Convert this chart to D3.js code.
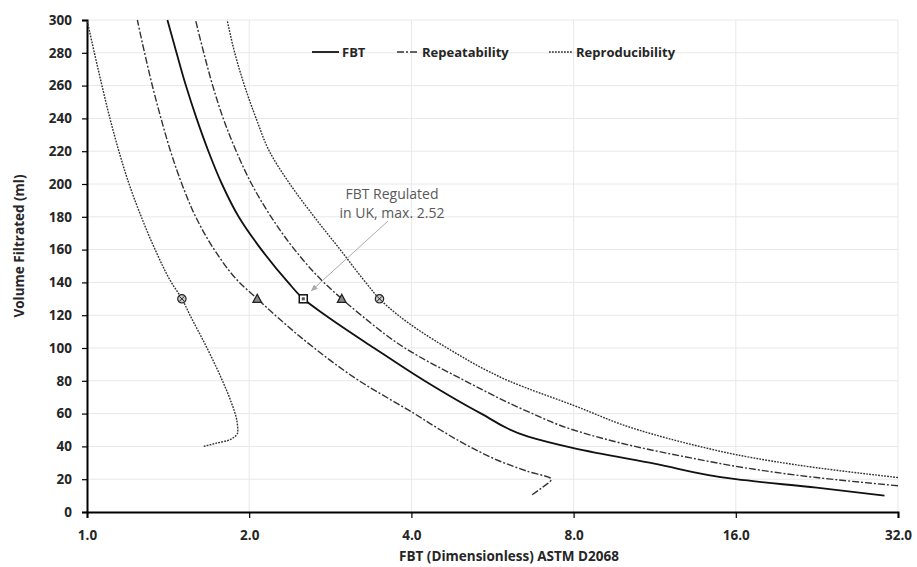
<!DOCTYPE html>
<html>
<head>
<meta charset="utf-8">
<script src="https://cdn.jsdelivr.net/npm/d3@7"></script>
<style>
  body { margin: 0; background: #fff; }
  text { font-family: "Open Sans", Lato, sans-serif; }
  .tick-label { font-size: 13.5px; font-weight: bold; fill: #262626; }
  .title { font-size: 13.5px; font-weight: bold; fill: #262626; }
  .legend { font-size: 13px; font-weight: bold; fill: #262626; }
  .note { font-size: 14px; fill: #595959; }
</style>
</head>
<body>
<div id="chart"></div>
<script>
// FBT vs volume filtrated, [FBT, ml]
const fbt = [[1.41,300],[1.466,280],[1.526,260],[1.597,240],[1.68,220],[1.78,200],[1.912,180],[2.107,160],[2.362,140],[2.52,130],[2.77,120],[3.41,100],[4.23,80],[5.39,60],[6.59,46],[8.0,39],[11.3,29.5],[16,20],[22.6,14.8],[30.2,10]];

const repeatLow = [[1.24,300],[1.279,280],[1.322,260],[1.372,240],[1.429,220],[1.5,200],[1.591,180],[1.723,160],[1.918,140],[2.07,130],[2.235,120],[2.64,100],[3.2,80],[4.05,60],[4.53,50],[5.12,40],[5.94,30],[6.54,25],[7.27,20],[7.0,15],[6.7,10.5]];
const repeatHigh = [[1.59,300],[1.647,280],[1.711,260],[1.79,240],[1.892,220],[2.021,200],[2.196,180],[2.428,160],[2.751,140],[2.97,130],[3.227,120],[3.89,100],[5.03,80],[6.5,62],[8.0,50],[10.4,40],[13.2,33],[16.6,27],[22.6,21],[32,16]];

const reproLow = [[1.0,300],[1.032,280],[1.066,260],[1.103,240],[1.146,220],[1.197,200],[1.261,180],[1.338,160],[1.434,140],[1.5,130],[1.553,120],[1.67,100],[1.784,80],[1.847,68],[1.899,55],[1.905,49],[1.84,44],[1.74,42],[1.647,40]];
const reproHigh = [[1.82,300],[1.88,280],[1.96,260],[2.06,240],[2.18,220],[2.38,200],[2.64,180],[2.95,160],[3.29,140],[3.49,130],[3.78,120],[4.66,100],[6.06,80],[8.0,65],[10.56,50],[13.7,40],[16,35],[22.6,27],[32,21]];

const markerVolume = 130;
const xTicks = [1, 2, 4, 8, 16, 32];
const yTicks = d3.range(0, 301, 20);

const W = 917, H = 567;
const M = { left: 87, right: 19, top: 20, bottom: 55 };

const svg = d3.select("#chart").append("svg")
    .attr("width", W)
    .attr("height", H);

const x = d3.scaleLog().base(2)
    .domain([1, 32])
    .range([M.left, W - M.right]);

const y = d3.scaleLinear()
    .domain([0, 300])
    .range([H - M.bottom, M.top]);

// grid
svg.append("g")
    .selectAll("line")
    .data(yTicks.filter(d => d > 0))
    .join("line")
    .attr("x1", M.left).attr("x2", W - M.right)
    .attr("y1", d => y(d)).attr("y2", d => y(d))
    .attr("stroke", "#e8e8e8");

svg.append("g")
    .selectAll("line")
    .data(xTicks.filter(d => d > 1))
    .join("line")
    .attr("x1", d => x(d)).attr("x2", d => x(d))
    .attr("y1", M.top).attr("y2", H - M.bottom)
    .attr("stroke", "#e8e8e8");

// axes
const xAxis = svg.append("g")
    .attr("transform", `translate(0,${H - M.bottom})`)
    .call(d3.axisBottom(x).tickValues(xTicks).tickFormat(d3.format(".1f")).tickSize(6).tickPadding(12));

const yAxis = svg.append("g")
    .attr("transform", `translate(${M.left},0)`)
    .call(d3.axisLeft(y).tickValues(yTicks).tickSize(5).tickPadding(10));

[xAxis, yAxis].forEach(a => {
    a.select(".domain").attr("stroke", "#000").attr("stroke-width", 2);
    a.selectAll(".tick line").attr("stroke", "#000").attr("stroke-width", 1.2);
    a.selectAll(".tick text").attr("class", "tick-label").attr("font-family", null).attr("font-size", null);
});

// axis titles
svg.append("text")
    .attr("class", "title")
    .attr("x", 509)
    .attr("y", 561)
    .attr("text-anchor", "middle")
    .text("FBT (Dimensionless) ASTM D2068");

svg.append("text")
    .attr("class", "title")
    .attr("transform", "translate(24,246) rotate(-90)")
    .attr("text-anchor", "middle")
    .text("Volume Filtrated (ml)");

// lines (x as a function of volume, so sort by volume)
const line = d3.line()
    .x(d => x(d[0]))
    .y(d => y(d[1]))
    .curve(d3.curveMonotoneY);

const STYLE = {
    fbt: { width: 1.8, dash: null, colour: "#111" },
    repeat: { width: 1.4, dash: "7 2 2 2", colour: "#333" },
    repro: { width: 1.4, dash: "1.8 1.2", colour: "#333" }
};

const series = [
    { data: reproLow, s: STYLE.repro, marker: "circle" },
    { data: reproHigh, s: STYLE.repro, marker: "circle" },
    { data: repeatLow, s: STYLE.repeat, marker: "triangle" },
    { data: repeatHigh, s: STYLE.repeat, marker: "triangle" },
    { data: fbt, s: STYLE.fbt, marker: "square" }
];

series.forEach(d => {
    svg.append("path")
        .datum(d.data.slice().sort((a, b) => a[1] - b[1]))
        .attr("d", line)
        .attr("fill", "none")
        .attr("stroke", d.s.colour)
        .attr("stroke-width", d.s.width)
        .attr("stroke-dasharray", d.s.dash);
});

// annotation arrow
const defs = svg.append("defs");
defs.append("marker")
    .attr("id", "arrow")
    .attr("viewBox", "0 0 10 10")
    .attr("refX", 9).attr("refY", 5)
    .attr("markerWidth", 7).attr("markerHeight", 7)
    .attr("orient", "auto")
    .append("path")
    .attr("d", "M0,1 L10,5 L0,9 z")
    .attr("fill", "#aaa");

svg.append("line")
    .attr("x1", 388).attr("y1", 221)
    .attr("x2", x(2.52) + 8).attr("y2", y(markerVolume) - 8)
    .attr("stroke", "#aaa")
    .attr("stroke-width", 1)
    .attr("marker-end", "url(#arrow)");

svg.append("text").attr("class", "note")
    .attr("x", 392).attr("y", 199)
    .attr("text-anchor", "middle")
    .text("FBT Regulated");
svg.append("text").attr("class", "note")
    .attr("x", 392).attr("y", 218)
    .attr("text-anchor", "middle")
    .text("in UK, max. 2.52");

// markers at 130 ml
series.forEach(d => {
    const p = d.data.find(v => v[1] === markerVolume);
    const cx = x(p[0]), cy = y(p[1]);
    const g = svg.append("g").attr("transform", `translate(${cx},${cy})`);
    if (d.marker === "circle") {
        g.append("circle").attr("r", 4.2).attr("fill", "#ccc").attr("stroke", "#222").attr("stroke-width", 1.2);
        g.append("path").attr("d", "M-2.5,-2.5L2.5,2.5M-2.5,2.5L2.5,-2.5").attr("stroke", "#222").attr("stroke-width", 1);
    } else if (d.marker === "triangle") {
        g.append("path").attr("d", "M0,-4.5L4.3,3.6L-4.3,3.6Z").attr("fill", "#888").attr("stroke", "#222").attr("stroke-width", 1.3);
    } else {
        g.append("rect").attr("x", -4).attr("y", -4).attr("width", 8).attr("height", 8)
            .attr("fill", "#fff").attr("stroke", "#111").attr("stroke-width", 1.5);
        g.append("rect").attr("x", -1.5).attr("y", -1.5).attr("width", 3).attr("height", 3).attr("fill", "#555");
    }
});

// legend
const legend = [
    { label: "FBT", s: STYLE.fbt, x0: 312, x1: 339 },
    { label: "Repeatability", s: STYLE.repeat, x0: 397, x1: 419 },
    { label: "Reproducibility", s: STYLE.repro, x0: 549, x1: 573 }
];
const lg = svg.append("g").attr("transform", "translate(0,52)");
legend.forEach(d => {
    lg.append("line")
        .attr("x1", d.x0).attr("x2", d.x1)
        .attr("stroke", d.s.colour)
        .attr("stroke-width", d.s.width)
        .attr("stroke-dasharray", d.s.dash);
    lg.append("text").attr("class", "legend")
        .attr("x", d.x1 + 3).attr("y", 5)
        .text(d.label);
});
</script>
</body>
</html>
